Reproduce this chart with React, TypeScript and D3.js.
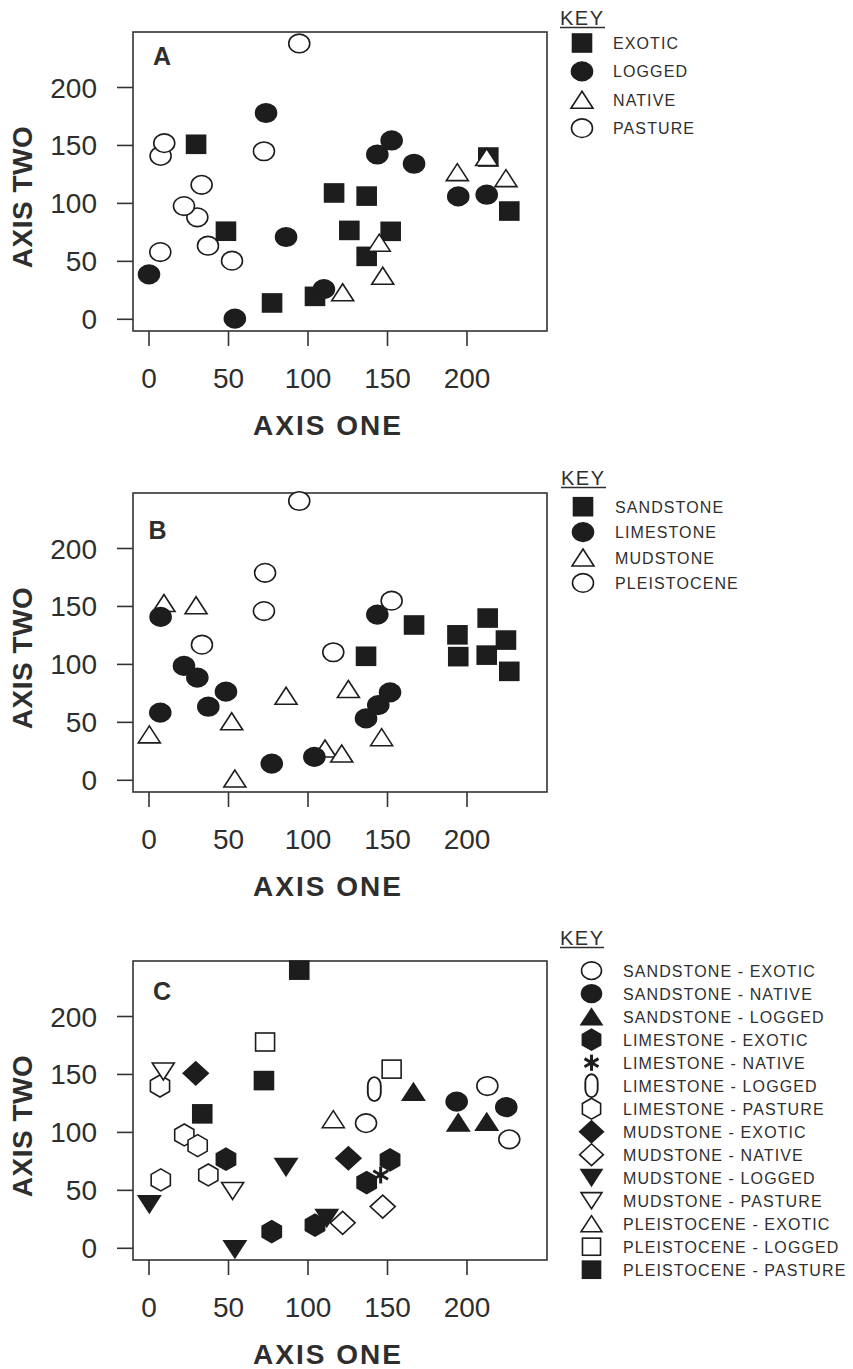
import React from "react";
import * as d3 from "d3";

// ---------- DATA ----------
const X_TICKS = [0, 50, 100, 150, 200];
const Y_TICKS = [0, 50, 100, 150, 200];

// Panel A (land use)
const A_EXOTIC: [number, number][] = [[29.6, 151], [116.4, 109], [136.9, 106.3], [48.4, 76], [126, 76.7], [152, 75.9], [136.9, 54.3], [77.4, 14.1], [104.4, 19.8], [226.6, 93.4], [213.4, 140]];
const A_LOGGED: [number, number][] = [[73.6, 178], [143.6, 142.2], [152.6, 154.3], [166.7, 134.2], [194.5, 106], [212.4, 107.5], [86.2, 71], [0, 38.8], [110, 26], [54, 0.6]];
const A_NATIVE: [number, number][] = [[193.9, 127], [212.4, 140], [224.5, 121.8], [144.8, 66.1], [147, 37.6], [121.8, 23.3]];
const A_PASTURE: [number, number][] = [[94.5, 238], [7.3, 141], [9.6, 152], [72.3, 145], [33.1, 116], [30.4, 88], [22, 97.7], [37.1, 63.5], [7.1, 58], [52.2, 50.6]];

// Panel B (geology)
const B_SANDSTONE: [number, number][] = [[166.7, 134], [213, 140], [194, 125.5], [224.5, 121], [136.5, 107], [194.5, 106.7], [212.4, 108], [226.6, 94]];
const B_LIMESTONE: [number, number][] = [[7.3, 141], [143.6, 143], [22, 98.7], [30.4, 88.6], [48.4, 76.5], [37.3, 63.5], [7.1, 58.4], [136.5, 53.4], [144.2, 64.9], [151.6, 75.9], [77.2, 14.4], [104, 20.2]];
const B_MUDSTONE: [number, number][] = [[9.4, 153], [29.6, 151], [86.2, 73], [125.4, 78.8], [52, 51], [0.2, 39.6], [146.3, 37.2], [110.7, 27.4], [121.2, 23.1], [54, 1.5]];
const B_PLEISTOCENE: [number, number][] = [[94.5, 241], [73, 179], [72.3, 146], [152.6, 155], [33.3, 117], [115.9, 110.5]];

// Panel C (geology - land use)
const C_SAND_EXOTIC: [number, number][] = [[212.8, 140], [226.6, 94], [136.5, 108]];
const C_SAND_NATIVE: [number, number][] = [[193.5, 126.6], [224.7, 121.8]];
const C_SAND_LOGGED: [number, number][] = [[166.3, 135.2], [194.5, 108.5], [212.4, 109.3]];
const C_LIME_EXOTIC: [number, number][] = [[48.4, 76.9], [151.6, 76.3], [136.9, 56.7], [77.2, 14.4], [104.4, 20]];
const C_LIME_NATIVE: [number, number][] = [[145.7, 63.3]];
const C_LIME_LOGGED: [number, number][] = [[141.7, 137.3]];
const C_LIME_PASTURE: [number, number][] = [[6.9, 140], [22.2, 97.8], [30.6, 88.6], [37.3, 63.3], [7.4, 59]];
const C_MUD_EXOTIC: [number, number][] = [[29.4, 151], [125.4, 77.7]];
const C_MUD_NATIVE: [number, number][] = [[147, 36], [121.8, 22]];
const C_MUD_LOGGED: [number, number][] = [[86.2, 70], [0.2, 38], [54, -0.9], [111.8, 26]];
const C_MUD_PASTURE: [number, number][] = [[9, 152.5], [52.6, 49.5]];
const C_PLEI_EXOTIC: [number, number][] = [[115.9, 111.4]];
const C_PLEI_LOGGED: [number, number][] = [[73, 178], [152.6, 154.6]];
const C_PLEI_PASTURE: [number, number][] = [[94.5, 240], [72.3, 144.7], [33.5, 116]];

const A_LABELS = ["EXOTIC", "LOGGED", "NATIVE", "PASTURE"];
const B_LABELS = ["SANDSTONE", "LIMESTONE", "MUDSTONE", "PLEISTOCENE"];
const C_LABELS = [
  "SANDSTONE - EXOTIC", "SANDSTONE - NATIVE", "SANDSTONE - LOGGED",
  "LIMESTONE - EXOTIC", "LIMESTONE - NATIVE", "LIMESTONE - LOGGED", "LIMESTONE - PASTURE",
  "MUDSTONE - EXOTIC", "MUDSTONE - NATIVE", "MUDSTONE - LOGGED", "MUDSTONE - PASTURE",
  "PLEISTOCENE - EXOTIC", "PLEISTOCENE - LOGGED", "PLEISTOCENE - PASTURE",
];

// ---------- STYLE ----------
const INK = "#1d1d1d";
const TXT = "#2e2e2e";
const FONT = "'Liberation Sans', Arial, Helvetica, sans-serif";

type Shape = "square" | "circle" | "triUp" | "triDown" | "hex" | "diamond" | "zero" | "star";
interface Series { label: string; shape: Shape; filled: boolean; data: [number, number][] }

const A_SERIES: Series[] = [
  { label: A_LABELS[0], shape: "square", filled: true, data: A_EXOTIC },
  { label: A_LABELS[1], shape: "circle", filled: true, data: A_LOGGED },
  { label: A_LABELS[2], shape: "triUp", filled: false, data: A_NATIVE },
  { label: A_LABELS[3], shape: "circle", filled: false, data: A_PASTURE },
];
const A_DRAW = [3, 0, 1, 2];

const B_SERIES: Series[] = [
  { label: B_LABELS[0], shape: "square", filled: true, data: B_SANDSTONE },
  { label: B_LABELS[1], shape: "circle", filled: true, data: B_LIMESTONE },
  { label: B_LABELS[2], shape: "triUp", filled: false, data: B_MUDSTONE },
  { label: B_LABELS[3], shape: "circle", filled: false, data: B_PLEISTOCENE },
];
const B_DRAW = [0, 2, 1, 3];

const C_SERIES: Series[] = [
  { label: C_LABELS[0], shape: "circle", filled: false, data: C_SAND_EXOTIC },
  { label: C_LABELS[1], shape: "circle", filled: true, data: C_SAND_NATIVE },
  { label: C_LABELS[2], shape: "triUp", filled: true, data: C_SAND_LOGGED },
  { label: C_LABELS[3], shape: "hex", filled: true, data: C_LIME_EXOTIC },
  { label: C_LABELS[4], shape: "star", filled: true, data: C_LIME_NATIVE },
  { label: C_LABELS[5], shape: "zero", filled: false, data: C_LIME_LOGGED },
  { label: C_LABELS[6], shape: "hex", filled: false, data: C_LIME_PASTURE },
  { label: C_LABELS[7], shape: "diamond", filled: true, data: C_MUD_EXOTIC },
  { label: C_LABELS[8], shape: "diamond", filled: false, data: C_MUD_NATIVE },
  { label: C_LABELS[9], shape: "triDown", filled: true, data: C_MUD_LOGGED },
  { label: C_LABELS[10], shape: "triDown", filled: false, data: C_MUD_PASTURE },
  { label: C_LABELS[11], shape: "triUp", filled: false, data: C_PLEI_EXOTIC },
  { label: C_LABELS[12], shape: "square", filled: false, data: C_PLEI_LOGGED },
  { label: C_LABELS[13], shape: "square", filled: true, data: C_PLEI_PASTURE },
];
const C_DRAW = [0, 1, 2, 3, 4, 5, 6, 7, 8, 9, 10, 11, 12, 13];

function Marker({ shape, filled, x, y, k = 1 }: { shape: Shape; filled: boolean; x: number; y: number; k?: number }) {
  const fill = filled ? INK : "#fff";
  const sw = 1.6;
  const common = { fill, stroke: INK, strokeWidth: sw };
  const poly = (pts: [number, number][]) => pts.map(([a, b]) => `${x + a * k},${y + b * k}`).join(" ");
  switch (shape) {
    case "square":
      return <rect x={x - 9.5 * k} y={y - 9 * k} width={19 * k} height={18 * k} {...common} />;
    case "circle":
      return <ellipse cx={x} cy={y} rx={10.5 * k} ry={9.3 * k} {...common} />;
    case "triUp":
      return <polygon points={poly([[0, -8.5], [11, 8.5], [-11, 8.5]])} {...common} strokeLinejoin="miter" />;
    case "triDown":
      return <polygon points={poly([[0, 8.5], [11, -8.5], [-11, -8.5]])} {...common} />;
    case "hex":
      return <polygon points={poly([[0, -11], [9.6, -5.5], [9.6, 5.5], [0, 11], [-9.6, 5.5], [-9.6, -5.5]])} {...common} />;
    case "diamond":
      return <polygon points={poly([[0, -11.5], [12.5, 0], [0, 11.5], [-12.5, 0]])} {...common} />;
    case "zero":
      return <rect x={x - 6.5 * k} y={y - 12 * k} width={13 * k} height={24 * k} rx={6.5 * k} ry={8.5 * k} fill="none" stroke={INK} strokeWidth={1.9} />;
    case "star": {
      const r = 8.5 * k;
      const angles = [90, 30, 150];
      return (
        <g stroke={INK} strokeWidth={3}>
          {angles.map((a) => {
            const dx = r * Math.cos((a * Math.PI) / 180);
            const dy = r * Math.sin((a * Math.PI) / 180);
            return <line key={a} x1={x - dx} y1={y - dy} x2={x + dx} y2={y + dy} />;
          })}
        </g>
      );
    }
  }
  return null;
}

interface PanelProps {
  top: number;
  letter: string;
  letterX: number;
  letterY: number;
  series: Series[];
  drawOrder: number[];
  legend: { keyX: number; keyY: number; keyW: number; markerX: number; textX: number; y0: number; dy: number; mk: number };
}

const FRAME_L = 133;
const FRAME_R = 547;
const FRAME_H = 299;

function Panel({ top, letter, letterX, letterY, series, drawOrder, legend }: PanelProps) {
  const x = d3.scaleLinear().domain([0, 200]).range([149, 467]);
  const y = d3.scaleLinear().domain([0, 200]).range([top + 287.3, top + 55.5]);
  const bottom = top + FRAME_H;
  return (
    <g>
      {/* frame */}
      <rect x={FRAME_L} y={top} width={FRAME_R - FRAME_L} height={FRAME_H} fill="none" stroke="#333" strokeWidth={1.6} />
      {/* y axis */}
      {Y_TICKS.map((t) => (
        <g key={"y" + t}>
          <line x1={FRAME_L - 16} x2={FRAME_L} y1={y(t)} y2={y(t)} stroke="#333" strokeWidth={1.6} />
          <text x={97} y={y(t) + 10} textAnchor="end" fontSize={28} fill={TXT} fontFamily={FONT}>{t}</text>
        </g>
      ))}
      {/* x axis */}
      {X_TICKS.map((t) => (
        <g key={"x" + t}>
          <line x1={x(t)} x2={x(t)} y1={bottom} y2={bottom + 15} stroke="#333" strokeWidth={1.6} />
          <text x={x(t)} y={bottom + 57} textAnchor="middle" fontSize={28} fill={TXT} fontFamily={FONT}>{t}</text>
        </g>
      ))}
      <text x={(FRAME_L + FRAME_R) / 2 - 12} y={bottom + 104} textAnchor="middle" fontSize={28} fontWeight="bold" letterSpacing={2} fill={TXT} fontFamily={FONT}>AXIS ONE</text>
      <text transform={`translate(32,${top + 165}) rotate(-90)`} textAnchor="middle" fontSize={28} fontWeight="bold" letterSpacing={0.5} fill={TXT} fontFamily={FONT}>AXIS TWO</text>
      <text x={letterX} y={letterY} textAnchor="middle" fontSize={25} fontWeight="bold" fill={TXT} fontFamily={FONT}>{letter}</text>
      {/* points */}
      {drawOrder.map((si) => (
        <g key={"s" + si}>
          {series[si].data.map((d, i) => (
            <Marker key={i} shape={series[si].shape} filled={series[si].filled} x={x(d[0])} y={y(d[1])} />
          ))}
        </g>
      ))}
      {/* legend */}
      <text x={legend.keyX} y={legend.keyY} fontSize={20} letterSpacing={1.5} fill={TXT} fontFamily={FONT}>KEY</text>
      <line x1={legend.keyX} x2={legend.keyX + legend.keyW} y1={legend.keyY + 2.5} y2={legend.keyY + 2.5} stroke={TXT} strokeWidth={1.3} />
      {series.map((s, i) => {
        const ly = legend.y0 + i * legend.dy;
        return (
          <g key={"l" + i}>
            <Marker shape={s.shape} filled={s.filled} x={legend.markerX} y={ly} k={legend.mk} />
            <text x={legend.textX} y={ly + 6} fontSize={16} letterSpacing={1.1} fill={TXT} fontFamily={FONT}>{s.label}</text>
          </g>
        );
      })}
    </g>
  );
}

export default function App() {
  return (
    <svg width={853} height={1369} style={{ position: "absolute", left: 0, top: 0, background: "#fff" }}>
      <rect x={0} y={0} width={853} height={1369} fill="#fff" />
      <Panel top={32} letter="A" letterX={162} letterY={65} series={A_SERIES} drawOrder={A_DRAW}
        legend={{ keyX: 560, keyY: 25, keyW: 45, markerX: 582, textX: 613, y0: 43, dy: 28.4, mk: 1 }} />
      <Panel top={493} letter="B" letterX={157.5} letterY={539} series={B_SERIES} drawOrder={B_DRAW}
        legend={{ keyX: 561, keyY: 485, keyW: 45, markerX: 583, textX: 615, y0: 506.7, dy: 25.4, mk: 1 }} />
      <Panel top={961} letter="C" letterX={162} letterY={1000} series={C_SERIES} drawOrder={C_DRAW}
        legend={{ keyX: 560, keyY: 945, keyW: 44, markerX: 591.5, textX: 623, y0: 970.7, dy: 23, mk: 0.95 }} />
    </svg>
  );
}
